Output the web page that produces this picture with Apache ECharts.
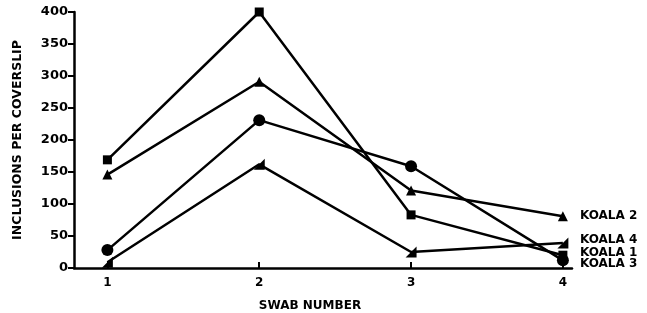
<!DOCTYPE html>
<html>
<head>
<meta charset="utf-8">
<script src="https://cdn.jsdelivr.net/npm/echarts@6/dist/echarts.min.js"></script>
<style>
  html, body { margin: 0; padding: 0; background: #fff; }
  #main { width: 647px; height: 313px; }
</style>
</head>
<body>
<div id="main"></div>
<script>
var swabs = [1, 2, 3, 4];
var koala1 = [169, 400, 83, 20];
var koala2 = [146, 291, 121, 81];
var koala3 = [28, 231, 159, 12];
var koala4 = [9, 162, 25, 39];

var myChart = echarts.init(document.getElementById('main'));

function pairs(vals)
{
    return swabs.map(function (s, i) { return [s, vals[i]]; });
}

var font = 'DejaVu Sans, Arial, sans-serif';
var halfTri = 'path://M0,10 L10,0 L10,10 Z';

function makeSeries(name, vals, symbol, size, offset)
{
    return {
        name: name,
        type: 'line',
        data: pairs(vals),
        symbol: symbol,
        symbolSize: size,
        showAllSymbol: true,
        clip: false,
        lineStyle: { color: '#000', width: 2.5 },
        itemStyle: { color: '#000' },
        endLabel:
        {
            show: true,
            formatter: '{a}',
            color: '#000',
            fontFamily: font,
            fontWeight: 'bold',
            fontSize: 12,
            offset: offset
        }
    };
}

option =
{
    animation: false,
    grid: { left: 74, right: 75, top: 12, bottom: 45, outerBoundsMode: 'none', containLabel: false },
    xAxis:
    {
        type: 'value',
        min: 0.78,
        max: 4.06,
        name: 'SWAB NUMBER',
        nameLocation: 'middle',
        nameGap: 32,
        nameTextStyle: { color: '#000', fontFamily: font, fontWeight: 'bold', fontSize: 12, padding: [0, 26, 0, 0] },
        axisLine: { show: true, onZero: false, lineStyle: { color: '#000', width: 2.5 } },
        axisTick: { show: true, inside: true, length: 6, customValues: swabs, lineStyle: { color: '#000', width: 2 } },
        axisLabel: { customValues: swabs, color: '#000', fontFamily: font, fontWeight: 'bold', fontSize: 12, margin: 9 },
        splitLine: { show: false }
    },
    yAxis:
    {
        type: 'value',
        min: 0,
        max: 400,
        interval: 50,
        name: 'INCLUSIONS PER COVERSLIP',
        nameLocation: 'middle',
        nameGap: 50,
        nameTextStyle: { color: '#000', fontFamily: font, fontWeight: 'bold', fontSize: 12.5 },
        axisLine: { show: true, lineStyle: { color: '#000', width: 2.5 } },
        axisTick: { show: true, length: 6, lineStyle: { color: '#000', width: 2 } },
        axisLabel: { color: '#000', fontFamily: font, fontWeight: 'bold', fontSize: 13, margin: 6 },
        splitLine: { show: false }
    },
    series:
    [
        makeSeries('KOALA 1', koala1, 'rect', 9, [9, -2]),
        makeSeries('KOALA 2', koala2, 'triangle', 10, [9, 0]),
        makeSeries('KOALA 3', koala3, 'circle', 12, [9, 4]),
        makeSeries('KOALA 4', koala4, halfTri, 11, [9, -3])
    ]
};

myChart.setOption(option);
</script>
</body>
</html>
